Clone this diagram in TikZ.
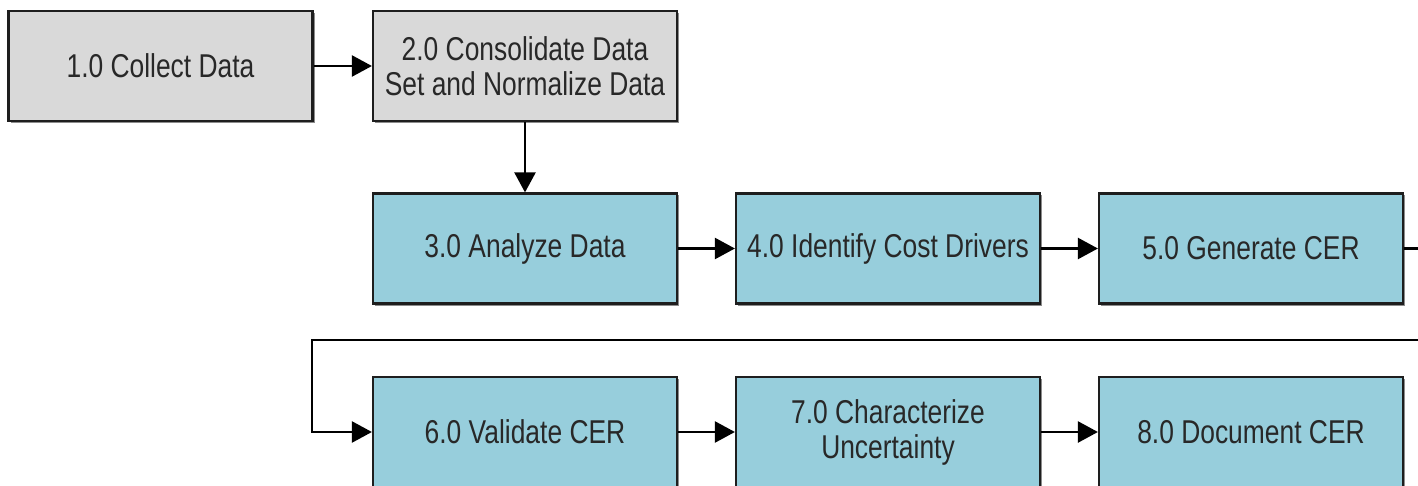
\documentclass[tikz,border=0pt]{standalone}
\usepackage{fontspec}
\setmainfont{Liberation Sans}[FakeStretch=0.8]
\usetikzlibrary{arrows.meta,shadows}
\definecolor{stepgray}{RGB}{217,217,217}
\definecolor{stepblue}{RGB}{151,206,220}
\definecolor{edgeink}{RGB}{30,30,30}
\definecolor{textink}{RGB}{40,40,40}
\tikzset{
  stepbox/.style={draw=edgeink, line width=2.2pt, minimum width=304pt,
    minimum height=110pt, inner sep=0pt, align=center, text=textink,
    font=\fontsize{33}{35}\selectfont,
    drop shadow={shadow xshift=2pt, shadow yshift=-2pt, fill=black, opacity=0.45}},
  grayfill/.style={stepbox, fill=stepgray},
  bluefill/.style={stepbox, fill=stepblue},
  flow/.style={draw=black, line width=2.4pt,
    -{Triangle[length=20pt,width=21pt]}},
}
\begin{document}
\begin{tikzpicture}[x=1pt,y=1pt]
  \useasboundingbox (0,0) rectangle (1418,-486);
  % top row: data preparation
  \node[grayfill] (collect) at (160.5,-66) {1.0 Collect Data};
  \node[grayfill] (consol)  at (525,-66) {2.0 Consolidate Data\\Set and Normalize Data};
  % middle row
  \node[bluefill] (analyze) at (525,-248.5) {3.0 Analyze Data};
  \node[bluefill] (drivers) at (888,-248.5) {4.0 Identify Cost Drivers};
  \node[bluefill] (generate) at (1251,-248.5) {5.0 Generate CER};
  % bottom row
  \node[bluefill] (validate) at (525,-432) {6.0 Validate CER};
  \node[bluefill] (uncert) at (888,-432) {7.0 Characterize\\Uncertainty};
  \node[bluefill] (document) at (1251,-432) {8.0 Document CER};
  % wrap-around from the end of the middle row
  \coordinate (wrapA) at (1430,-248.5);
  \coordinate (wrapB) at (1430,-340);
  \coordinate (wrapC) at (312,-340);
  \coordinate (wrapD) at (312,-432);
  % connectors
  \draw[flow] (collect) -- (consol);
  \draw[flow] (consol) -- (analyze);
  \draw[flow] (analyze) -- (drivers);
  \draw[flow] (drivers) -- (generate);
  \draw[flow] (generate.east) -- (wrapA) -- (wrapB) -- (wrapC) -- (wrapD) -- (validate.west);
  \draw[flow] (validate) -- (uncert);
  \draw[flow] (uncert) -- (document);
\end{tikzpicture}
\end{document}
